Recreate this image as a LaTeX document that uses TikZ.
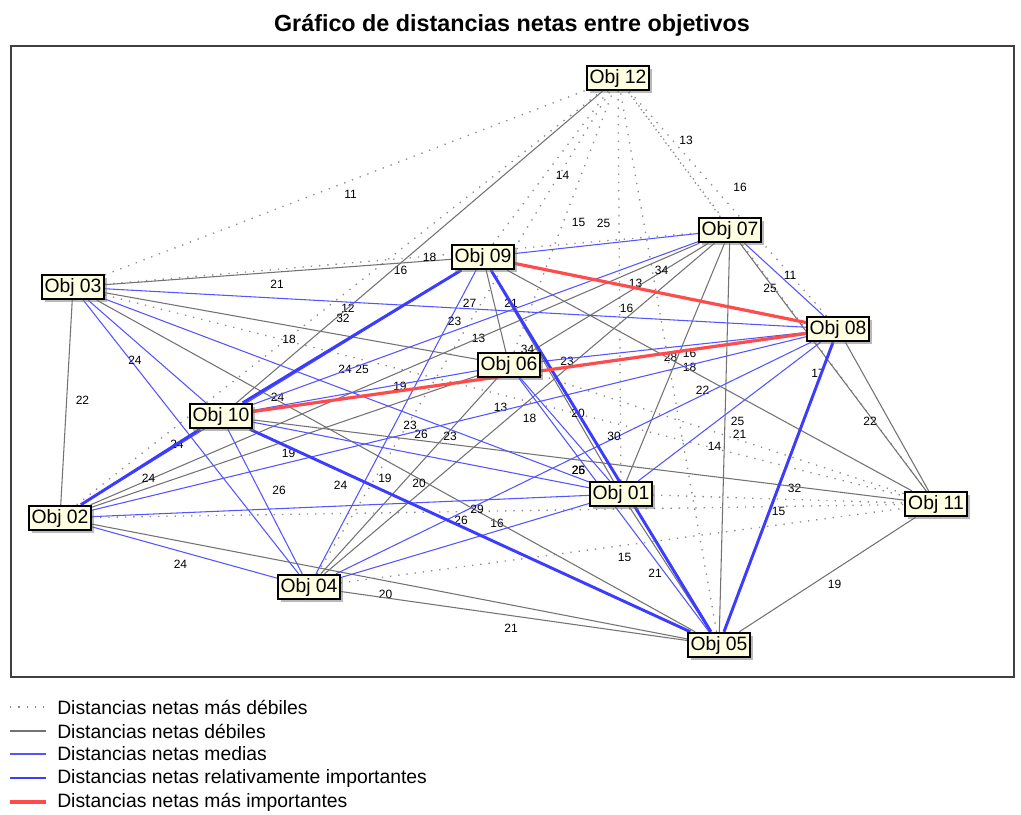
\documentclass[tikz,border=0pt]{standalone}
\usepackage{fontspec}
\setmainfont{Liberation Sans}
\usetikzlibrary{shadows,backgrounds}
\definecolor{tipyellow}{RGB}{255,255,225}
\definecolor{medblue}{RGB}{85,85,255}
\definecolor{strongblue}{RGB}{60,60,255}
\definecolor{topred}{RGB}{255,75,75}

\begin{document}
\begin{tikzpicture}[x=0.75pt,y=-0.75pt]
\tikzstyle{obj}=[draw,line width=1.3pt,fill=tipyellow,minimum width=46.5pt,minimum height=18.5pt,inner sep=1pt,font=\fontsize{14.5}{15}\selectfont,drop shadow={shadow xshift=2.2pt,shadow yshift=-2.2pt,fill=black!55}]
\tikzstyle{weakest}=[black!45,line width=1pt,dash pattern=on 1pt off 5.2pt]
\tikzstyle{weak}=[black!55,line width=0.8pt]
\tikzstyle{medium}=[medblue,line width=0.8pt]
\tikzstyle{strong}=[strongblue,line width=2.2pt]
\tikzstyle{strongest}=[topred,line width=2.4pt]
\tikzstyle{lbl}=[font=\fontsize{9}{9}\selectfont,inner sep=0pt,text=black]
\tikzstyle{legtext}=[anchor=west,inner sep=0pt,font=\fontsize{14.5}{15}\selectfont]
\useasboundingbox (0,0) rectangle (1021,814);
\node[font=\bfseries\fontsize{17.5}{18}\selectfont] (title) at (512,25) {Gráfico de distancias netas entre objetivos};
\draw[black!75,line width=1.2pt] (11,46) rectangle (1014,677);
% objectives
\node[obj] (o01) at (621,494) {Obj 01};
\node[obj] (o02) at (60,518) {Obj 02};
\node[obj] (o03) at (73,287) {Obj 03};
\node[obj] (o04) at (309,587) {Obj 04};
\node[obj] (o05) at (719,645) {Obj 05};
\node[obj] (o06) at (509,365) {Obj 06};
\node[obj] (o07) at (730,230) {Obj 07};
\node[obj] (o08) at (838,329) {Obj 08};
\node[obj] (o09) at (483,257) {Obj 09};
\node[obj] (o10) at (221,416) {Obj 10};
\node[obj] (o11) at (936,504) {Obj 11};
\node[obj] (o12) at (618,78) {Obj 12};
\begin{scope}[on background layer]
% weakest
\draw[weakest] (o01) -- node[lbl,shift={(16,-11)}] {32} (o11);
\draw[weakest] (o01) -- node[lbl,shift={(16,-3)}] {13} (o12);
\draw[weakest] (o02) -- node[lbl,shift={(-1,12)}] {16} (o11);
\draw[weakest] (o02) -- node[lbl,shift={(9,10)}] {12} (o12);
\draw[weakest] (o03) -- node[lbl,shift={(-1,12)}] {16} (o07);
\draw[weakest] (o03) -- node[lbl,shift={(-4,12)}] {13} (o11);
\draw[weakest] (o03) -- node[lbl,shift={(5,12)}] {11} (o12);
\draw[weakest] (o04) -- node[lbl,shift={(2,12)}] {15} (o11);
\draw[weakest] (o04) -- node[lbl,shift={(15,6)}] {13} (o12);
\draw[weakest] (o05) -- node[lbl,shift={(2,-4)}] {28} (o12);
\draw[weakest] (o06) -- node[lbl,shift={(17,0)}] {21} (o11);
\draw[weakest] (o06) -- node[lbl,shift={(15,1)}] {15} (o12);
\draw[weakest] (o07) -- node[lbl,shift={(12,-14)}] {13} (o12);
\draw[weakest] (o08) -- node[lbl,shift={(12,-16)}] {16} (o12);
\draw[weakest] (o09) -- node[lbl,shift={(12,8)}] {14} (o12);
\draw[weakest] (o11) -- node[lbl,shift={(-7,-3)}] {25} (o12);
% weak
\draw[weak] (o01) -- node[lbl,shift={(-15,4)}] {21} (o05);
\draw[weak] (o01) -- node[lbl,shift={(14,5)}] {18} (o07);
\draw[weak] (o01) -- node[lbl,shift={(15,-14)}] {23} (o09);
\draw[weak] (o02) -- node[lbl,shift={(16,-2)}] {22} (o03);
\draw[weak] (o02) -- node[lbl,shift={(-4,13)}] {20} (o05);
\draw[weak] (o02) -- node[lbl,shift={(4,12)}] {19} (o06);
\draw[weak] (o02) -- node[lbl,shift={(5,12)}] {19} (o07);
\draw[weak] (o03) -- node[lbl,shift={(-11,12)}] {19} (o05);
\draw[weak] (o03) -- node[lbl,shift={(-2,13)}] {18} (o06);
\draw[weak] (o03) -- node[lbl,shift={(-1,12)}] {21} (o09);
\draw[weak] (o04) -- node[lbl,shift={(-3,12)}] {21} (o05);
\draw[weak] (o04) -- node[lbl,shift={(10,7)}] {20} (o06);
\draw[weak] (o04) -- node[lbl,shift={(10,10)}] {18} (o07);
\draw[weak] (o05) -- node[lbl,shift={(-10,9)}] {14} (o07);
\draw[weak] (o05) -- node[lbl,shift={(7,10)}] {19} (o11);
\draw[weak] (o06) -- node[lbl,shift={(7,11)}] {16} (o07);
\draw[weak] (o06) -- node[lbl,shift={(15,-8)}] {21} (o09);
\draw[weak] (o07) -- node[lbl,shift={(-15,6)}] {17} (o11);
\draw[weak] (o08) -- node[lbl,shift={(-17,5)}] {22} (o11);
\draw[weak] (o09) -- node[lbl,shift={(-7,10)}] {22} (o11);
\draw[weak] (o10) -- node[lbl,shift={(0,10)}] {26} (o11);
\draw[weak] (o10) -- node[lbl,shift={(10,10)}] {18} (o12);
% medium
\draw[medium] (o01) -- node[lbl,shift={(0,-21)}] {24} (o02);
\draw[medium] (o01) -- node[lbl,shift={(-2,-21)}] {24} (o03);
\draw[medium] (o01) -- node[lbl,shift={(-4,-20)}] {26} (o04);
\draw[medium] (o01) -- node[lbl,shift={(13,-16)}] {20} (o06);
\draw[medium] (o01) -- node[lbl,shift={(8,10)}] {25} (o08);
\draw[medium] (o01) -- node[lbl,shift={(0,-21)}] {26} (o10);
\draw[medium] (o02) -- node[lbl,shift={(-4,12)}] {24} (o04);
\draw[medium] (o02) -- node[lbl,shift={(1,13)}] {23} (o08);
\draw[medium] (o02) -- node[lbl,shift={(6,10)}] {24} (o09);
\draw[medium] (o03) -- node[lbl,shift={(-14,7)}] {24} (o04);
\draw[medium] (o03) -- node[lbl,shift={(14,-5)}] {27} (o08);
\draw[medium] (o03) -- node[lbl,shift={(-12,9)}] {24} (o10);
\draw[medium] (o04) -- node[lbl,shift={(5,12)}] {25} (o08);
\draw[medium] (o04) -- node[lbl,shift={(14,3)}] {23} (o09);
\draw[medium] (o04) -- node[lbl,shift={(14,-11)}] {26} (o10);
\draw[medium] (o05) -- (o06);
\draw[medium] (o06) -- node[lbl,shift={(16,6)}] {16} (o08);
\draw[medium] (o06) -- node[lbl,shift={(-3,-21)}] {25} (o10);
\draw[medium] (o07) -- node[lbl,shift={(6,-4)}] {11} (o08);
\draw[medium] (o07) -- node[lbl,shift={(-3,-20)}] {25} (o09);
\draw[medium] (o07) -- node[lbl,shift={(-21,-2)}] {23} (o10);
% strong
\draw[strong] (o02) -- node[lbl,shift={(8,11)}] {24} (o10);
\draw[strong] (o05) -- node[lbl,shift={(0,24)}] {15} (o08);
\draw[strong] (o05) -- node[lbl,shift={(13,-15)}] {30} (o09);
\draw[strong] (o05) -- node[lbl,shift={(7,-21)}] {29} (o10);
\draw[strong] (o09) -- node[lbl,shift={(-9,-18)}] {32} (o10);
% strongest
\draw[strongest] (o08) -- node[lbl,shift={(1,-23)}] {34} (o09);
\draw[strongest] (o08) -- node[lbl,shift={(-2,-23)}] {34} (o10);
\end{scope}
% legend
\draw[weakest] (10,707) -- (46,707);
\draw[weak] (10,731) -- (46,731);
\draw[medium] (10,754) -- (46,754);
\draw[strong] (10,778) -- (46,778);
\draw[strongest] (10,802) -- (46,802);
\node[legtext] (leg1) at (57,707) {Distancias netas más débiles};
\node[legtext] (leg2) at (57,731) {Distancias netas débiles};
\node[legtext] (leg3) at (57,754) {Distancias netas medias};
\node[legtext] (leg4) at (57,778) {Distancias netas relativamente importantes};
\node[legtext] (leg5) at (57,802) {Distancias netas más importantes};
\end{tikzpicture}
\end{document}
